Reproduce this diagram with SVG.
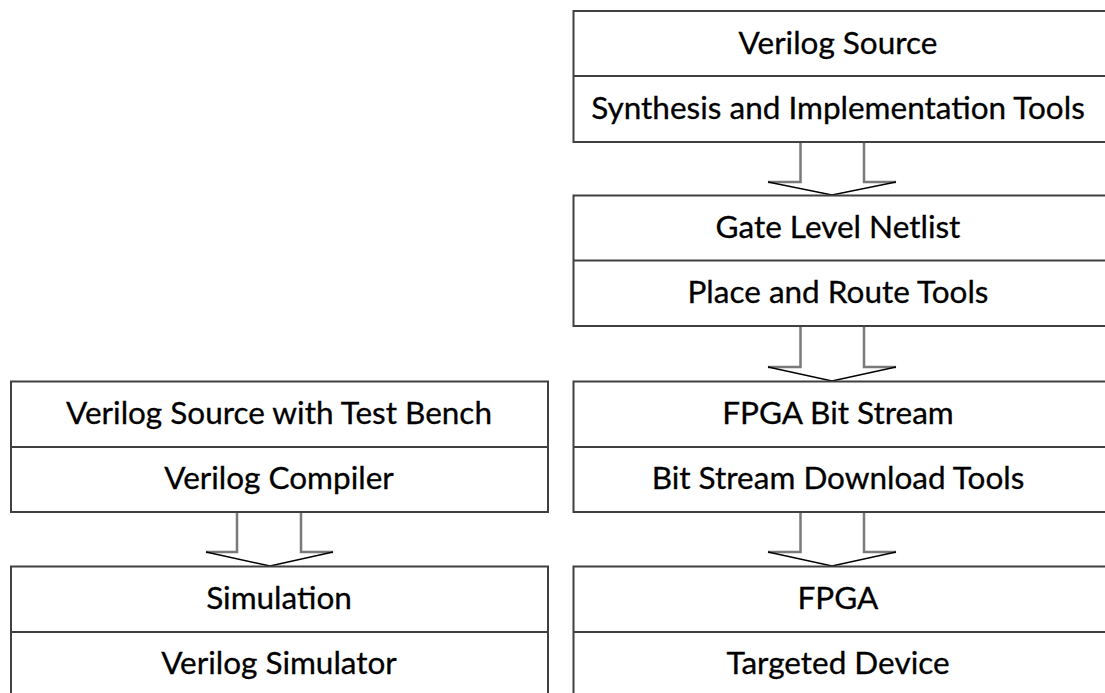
<svg xmlns="http://www.w3.org/2000/svg" width="1105" height="693" viewBox="0 0 1105 693">
  <style>
    .box { fill: #ffffff; stroke: #404040; stroke-width: 2; }
    .div { stroke: #404040; stroke-width: 2; }
    .lbl { font-family: Lato, "Liberation Sans", sans-serif; font-size: 31.5px; fill: #000000; text-anchor: middle; stroke: #000000; stroke-width: 0.3; }
    .shaft { fill: none; stroke: #7a7a7a; stroke-width: 2.5; }
    .head { fill: none; stroke: #000000; stroke-width: 1.5; }
  </style>
  <rect width="1105" height="693" fill="#ffffff"/>

  <!-- connectors: hollow block arrows between stages -->
  <g id="connectors">
    <g id="arrow-synth-netlist">
      <polyline class="shaft" points="800.5,142 800.5,182 768,182"/>
      <polyline class="shaft" points="864,142 864,182 896,182"/>
      <polyline class="head" points="768,182 832,195 896,182"/>
    </g>
    <g id="arrow-netlist-bitstream">
      <polyline class="shaft" points="800.5,326 800.5,367 768,367"/>
      <polyline class="shaft" points="864,326 864,367 896,367"/>
      <polyline class="head" points="768,367 832,381 896,367"/>
    </g>
    <g id="arrow-bitstream-fpga">
      <polyline class="shaft" points="800.5,512 800.5,552 768,552"/>
      <polyline class="shaft" points="864,512 864,552 896,552"/>
      <polyline class="head" points="768,552 832,566 896,552"/>
    </g>
    <g id="arrow-compiler-simulation">
      <polyline class="shaft" points="237,512 237,552 206,552"/>
      <polyline class="shaft" points="301,512 301,552 333,552"/>
      <polyline class="head" points="206,552 270,566 333,552"/>
    </g>
  </g>

  <!-- right column: synthesis flow -->
  <g id="verilog-source">
    <rect class="box" x="573.5" y="11" width="540" height="131"/>
    <line class="div" x1="573.5" y1="76" x2="1113" y2="76"/>
    <text class="lbl" x="838" y="54">Verilog Source</text>
    <text class="lbl" x="838" y="119">Synthesis and Implementation Tools</text>
  </g>
  <g id="gate-level-netlist">
    <rect class="box" x="573.5" y="195.5" width="540" height="130.5"/>
    <line class="div" x1="573.5" y1="260.5" x2="1113" y2="260.5"/>
    <text class="lbl" x="838" y="238">Gate Level Netlist</text>
    <text class="lbl" x="838" y="303">Place and Route Tools</text>
  </g>
  <g id="fpga-bit-stream">
    <rect class="box" x="573.5" y="381.5" width="540" height="130.5"/>
    <line class="div" x1="573.5" y1="447" x2="1113" y2="447"/>
    <text class="lbl" x="838" y="424">FPGA Bit Stream</text>
    <text class="lbl" x="838" y="489">Bit Stream Download Tools</text>
  </g>
  <g id="fpga">
    <rect class="box" x="573.5" y="566.5" width="540" height="140"/>
    <line class="div" x1="573.5" y1="632" x2="1113" y2="632"/>
    <text class="lbl" x="838" y="609">FPGA</text>
    <text class="lbl" x="838" y="674">Targeted Device</text>
  </g>

  <!-- left column: simulation flow -->
  <g id="verilog-testbench">
    <rect class="box" x="11" y="381.5" width="537" height="130.5"/>
    <line class="div" x1="11" y1="447" x2="548" y2="447"/>
    <text class="lbl" x="279" y="424">Verilog Source with Test Bench</text>
    <text class="lbl" x="279" y="489">Verilog Compiler</text>
  </g>
  <g id="simulation">
    <rect class="box" x="11" y="566.5" width="537" height="140"/>
    <line class="div" x1="11" y1="632" x2="548" y2="632"/>
    <text class="lbl" x="279" y="609">Simulation</text>
    <text class="lbl" x="279" y="674">Verilog Simulator</text>
  </g>
</svg>
